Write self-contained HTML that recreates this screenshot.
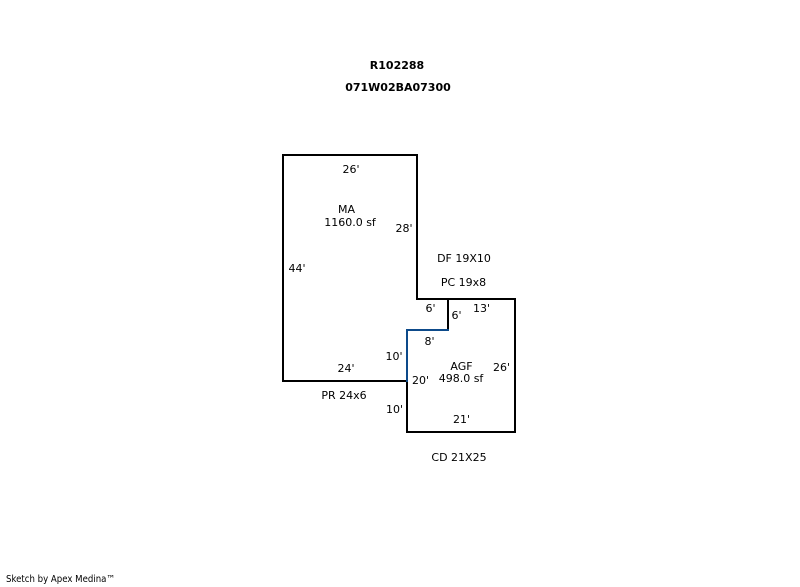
<!DOCTYPE html>
<html>
<head>
<meta charset="utf-8">
<style>
  html, body { margin: 0; padding: 0; background: #ffffff; }
  svg { display: block; }
  text { font-family: "DejaVu Sans", "Liberation Sans", sans-serif; font-size: 11px; fill: #000; }
  .b { font-weight: bold; }
  .f { font-size: 9.5px; }
</style>
</head>
<body>
<svg width="800" height="587" viewBox="0 0 800 587" xmlns="http://www.w3.org/2000/svg">
  <rect x="0" y="0" width="800" height="587" fill="#ffffff"/>

  <!-- title -->
  <text class="b" x="397" y="69" text-anchor="middle">R102288</text>
  <text class="b" x="398" y="91" text-anchor="middle">071W02BA07300</text>

  <!-- outline -->
  <path d="M407 381 H283 V155 H417 V299 H515 V432 H407 V381" fill="none" stroke="#000" stroke-width="2" stroke-linecap="square" stroke-linejoin="miter"/>
  <line x1="448" y1="299" x2="448" y2="330" stroke="#000" stroke-width="2" stroke-linecap="square"/>
  <path d="M407 381 V330 H448" fill="none" stroke="#0d4a8a" stroke-width="2" stroke-linecap="square" stroke-linejoin="miter"/>

  <!-- MA labels -->
  <text x="351" y="173" text-anchor="middle">26'</text>
  <text x="346.5" y="213" text-anchor="middle">MA</text>
  <text x="350" y="226" text-anchor="middle">1160.0 sf</text>
  <text x="404" y="232" text-anchor="middle">28'</text>
  <text x="297" y="272" text-anchor="middle">44'</text>
  <text x="464" y="262" text-anchor="middle">DF 19X10</text>
  <text x="463.5" y="286" text-anchor="middle">PC 19x8</text>

  <!-- AGF labels -->
  <text x="430.5" y="312" text-anchor="middle">6'</text>
  <text x="456.5" y="319" text-anchor="middle">6'</text>
  <text x="481.5" y="312" text-anchor="middle">13'</text>
  <text x="429.5" y="345" text-anchor="middle">8'</text>
  <text x="394" y="360" text-anchor="middle">10'</text>
  <text x="346" y="372" text-anchor="middle">24'</text>
  <text x="461.5" y="370" text-anchor="middle">AGF</text>
  <text x="501.5" y="371" text-anchor="middle">26'</text>
  <text x="420.5" y="384" text-anchor="middle">20'</text>
  <text x="461" y="382" text-anchor="middle">498.0 sf</text>
  <text x="344" y="399" text-anchor="middle">PR 24x6</text>
  <text x="394.5" y="413" text-anchor="middle">10'</text>
  <text x="461.5" y="423" text-anchor="middle">21'</text>
  <text x="459" y="461" text-anchor="middle">CD 21X25</text>

  <!-- footer -->
  <text class="f" x="6" y="582" textLength="109" lengthAdjust="spacingAndGlyphs">Sketch by Apex Medina™</text>
</svg>
</body>
</html>
